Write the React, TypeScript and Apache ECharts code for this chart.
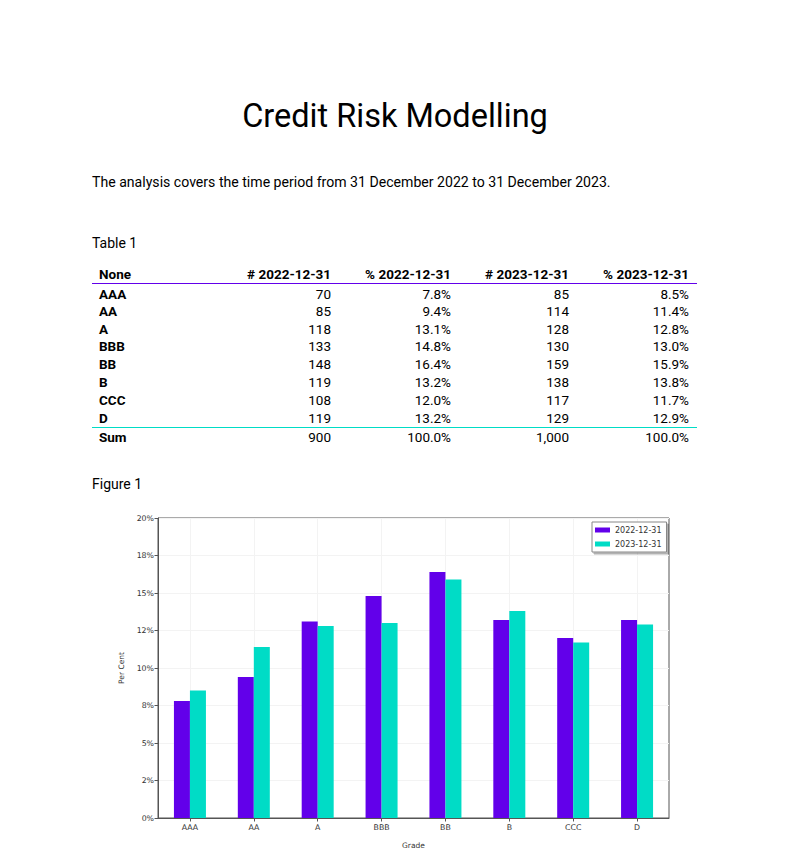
import React, { useEffect, useRef } from "react";
import * as echarts from "echarts";

const grades = ["AAA", "AA", "A", "BBB", "BB", "B", "CCC", "D"];
const count2022 = [70, 85, 118, 133, 148, 119, 108, 119];
const pct2022 = [7.8, 9.4, 13.1, 14.8, 16.4, 13.2, 12.0, 13.2];
const count2023 = [85, 114, 128, 130, 159, 138, 117, 129];
const pct2023 = [8.5, 11.4, 12.8, 13.0, 15.9, 13.8, 11.7, 12.9];
const totals = ["900", "100.0%", "1,000", "100.0%"];
const headers = ["None", "# 2022-12-31", "% 2022-12-31", "# 2023-12-31", "% 2023-12-31"];
const seriesNames = ["2022-12-31", "2023-12-31"];
const yTickLabels = ["0%", "2%", "5%", "8%", "10%", "12%", "15%", "18%", "20%"];

const PURPLE = "#6200EA";
const TEAL = "#00DCC6";
const DOC_FONT = "Roboto";
const CHART_FONT = "DejaVu Sans";

export default function App() {
  const ref = useRef<HTMLDivElement>(null);
  useEffect(() => {
    if (!ref.current) return;
    const chart = echarts.init(ref.current, null, { renderer: "svg" });

    const colRight = [0, 331, 451, 569, 689];
    const rowY = [274, 294, 311, 329, 346, 364, 382, 400, 418, 437];
    const texts: any[] = [];
    const txt = (x: number, y: number, s: string, opts: any = {}) =>
      texts.push({
        type: "text",
        x,
        y,
        silent: true,
        style: {
          text: s,
          fontFamily: DOC_FONT,
          fontSize: 13.5,
          fill: "#000",
          textAlign: "left",
          textVerticalAlign: "middle",
          ...opts,
        },
      });

    txt(395, 116, "Credit Risk Modelling", { fontSize: 32.5, textAlign: "center" });
    txt(92, 182, "The analysis covers the time period from 31 December 2022 to 31 December 2023.", { fontSize: 14.1 });
    txt(92, 243, "Table 1", { fontSize: 14 });
    txt(92, 484, "Figure 1", { fontSize: 14 });

    headers.forEach((h, i) => {
      if (i === 0) txt(99, rowY[0], h, { fontWeight: "bold" });
      else txt(colRight[i], rowY[0], h, { fontWeight: "bold", textAlign: "right" });
    });
    grades.forEach((g, r) => {
      const y = rowY[r + 1];
      txt(99, y, g, { fontWeight: "bold" });
      txt(colRight[1], y, String(count2022[r]), { textAlign: "right" });
      txt(colRight[2], y, pct2022[r].toFixed(1) + "%", { textAlign: "right" });
      txt(colRight[3], y, String(count2023[r]), { textAlign: "right" });
      txt(colRight[4], y, pct2023[r].toFixed(1) + "%", { textAlign: "right" });
    });
    txt(99, rowY[9], "Sum", { fontWeight: "bold" });
    totals.forEach((t, i) => txt(colRight[i + 1], rowY[9], t, { textAlign: "right" }));

    const lines = [
      { type: "line", silent: true, shape: { x1: 92, y1: 283.5, x2: 697, y2: 283.5 }, style: { stroke: PURPLE, lineWidth: 1.2 } },
      { type: "line", silent: true, shape: { x1: 92, y1: 427.5, x2: 697, y2: 427.5 }, style: { stroke: TEAL, lineWidth: 1.2 } },
    ];

    chart.setOption({
      animation: false,
      backgroundColor: "#fff",
      textStyle: { fontFamily: CHART_FONT },
      graphic: [...texts, ...lines],
      grid: {
        left: 158,
        top: 518,
        width: 511,
        height: 300,
        show: true,
        borderColor: "#555",
        borderWidth: 1,
        backgroundColor: "transparent",
        containLabel: false,
      },
      legend: {
        orient: "vertical",
        left: 592,
        top: 522,
        itemWidth: 15,
        itemHeight: 5,
        itemGap: 6,
        padding: [4, 5, 4, 3],
        borderColor: "#888",
        borderWidth: 1,
        borderRadius: 0,
        backgroundColor: "#fff",
        shadowColor: "rgba(0,0,0,0.3)",
        shadowOffsetX: 2,
        shadowOffsetY: 2,
        icon: "rect",
        textStyle: { fontSize: 8, color: "#333", fontFamily: CHART_FONT },
        data: seriesNames,
      },
      xAxis: {
        type: "category",
        data: grades,
        name: "Grade",
        nameLocation: "middle",
        nameGap: 23,
        nameTextStyle: { fontSize: 7.5, color: "#333" },
        axisLine: { show: true, lineStyle: { color: "#555", width: 1 } },
        axisTick: { show: true, alignWithLabel: true, length: 3.5, lineStyle: { color: "#555" } },
        axisLabel: { fontSize: 7.8, color: "#333", margin: 5 },
        splitLine: { show: true, alignWithLabel: true, lineStyle: { color: "#f3f3f3", width: 1 } },
      },
      yAxis: {
        type: "value",
        min: 0,
        max: 20,
        interval: 2.5,
        name: "Per Cent",
        nameLocation: "middle",
        nameGap: 33,
        nameTextStyle: { fontSize: 7.5, color: "#333" },
        axisLine: { show: true, lineStyle: { color: "#555", width: 1 } },
        axisTick: { show: true, length: 3.5, lineStyle: { color: "#555" } },
        axisLabel: {
          fontSize: 7.8,
          color: "#333",
          margin: 4,
          formatter: (v: number) => yTickLabels[Math.round(v / 2.5)] ?? "",
        },
        splitLine: { show: true, lineStyle: { color: "#f3f3f3", width: 1 } },
      },
      series: [
        { name: seriesNames[0], type: "bar", data: pct2022, barWidth: 16, barGap: "0%", itemStyle: { color: PURPLE } },
        { name: seriesNames[1], type: "bar", data: pct2023, barWidth: 16, barGap: "0%", itemStyle: { color: TEAL } },
      ],
    });
    return () => chart.dispose();
  }, []);
  return <div ref={ref} style={{ position: "absolute", left: 0, top: 0, width: 787, height: 851 }} />;
}
